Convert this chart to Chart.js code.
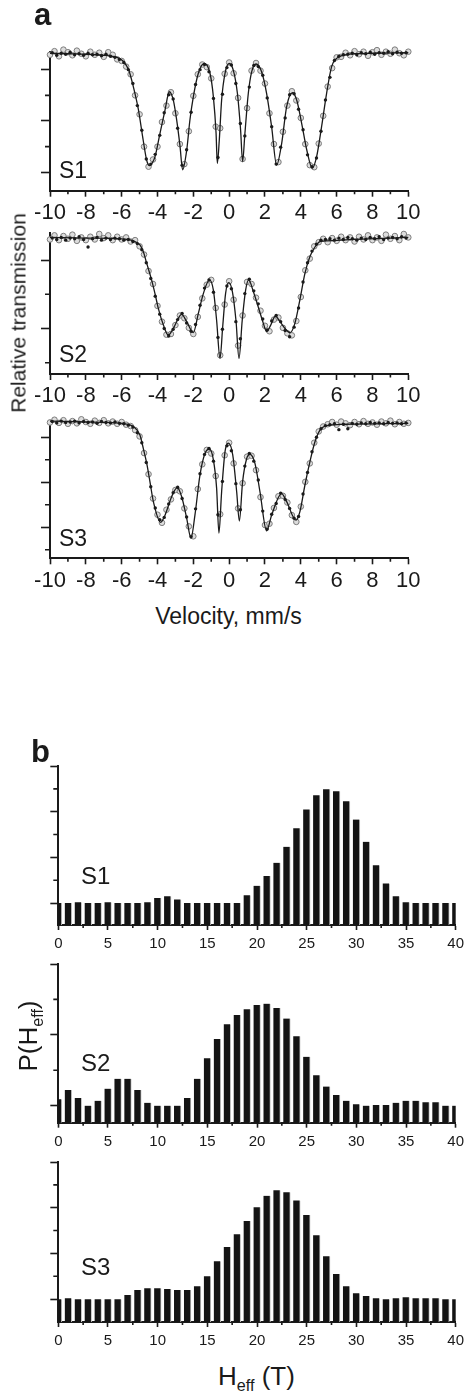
<!DOCTYPE html>
<html>
<head>
<meta charset="utf-8">
<script src="https://cdn.jsdelivr.net/npm/chart.js@4.4.1/dist/chart.umd.min.js"></script>
<style>
  body { margin: 0; background: #fff; }
  #page { position: relative; width: 471px; height: 1396px; overflow: hidden;
          font-family: "Liberation Sans", Arial, sans-serif; color: #1a1a1a; }
  canvas { position: absolute; left: 0; }
  .t { position: absolute; line-height: 1; white-space: nowrap; }
  .sub { font-size: 0.62em; position: relative; top: 0.35em; }
</style>
</head>
<body>
<div id="page">
  <canvas id="a1" width="471" height="222" style="top:0px"></canvas>
  <canvas id="a2" width="471" height="192" style="top:222px"></canvas>
  <canvas id="a3" width="471" height="186" style="top:414px"></canvas>
  <canvas id="b1" width="471" height="210" style="top:745px"></canvas>
  <canvas id="b2" width="471" height="200" style="top:955px"></canvas>
  <canvas id="b3" width="471" height="195" style="top:1155px"></canvas>

  <div class="t" style="left:34px;top:-1px;font-size:31px;font-weight:bold">a</div>
  <div class="t" style="left:31px;top:736px;font-size:31px;font-weight:bold">b</div>

  <div class="t" style="left:59px;top:158.5px;font-size:23px">S1</div>
  <div class="t" style="left:59px;top:343px;font-size:23px">S2</div>
  <div class="t" style="left:59px;top:527px;font-size:23px">S3</div>

  <div class="t" style="left:81px;top:863.7px;font-size:24px">S1</div>
  <div class="t" style="left:81px;top:1051.4px;font-size:24px">S2</div>
  <div class="t" style="left:81px;top:1254.7px;font-size:24px">S3</div>

  <div class="t" style="left:17.7px;top:312.5px;font-size:21px;transform:translate(-50%,-50%) rotate(-90deg)">Relative transmission</div>
  <div class="t" style="left:228.5px;top:605.3px;font-size:23px;transform:translateX(-50%)">Velocity, mm/s</div>

  <div class="t" style="left:28px;top:1036px;font-size:26px;transform:translate(-50%,-50%) rotate(-90deg)">P(H<span class="sub">eff</span>)</div>
  <div class="t" style="left:256.5px;top:1363px;font-size:26px;transform:translateX(-50%)">H<span class="sub">eff</span> (T)</div>
</div>

<script>
// ---- panel a: Mossbauer spectra ----
const VEL_TICKS = [-10, -8, -6, -4, -2, 0, 2, 4, 6, 8, 10];
const VEL_MINOR = [-9, -7, -5, -3, -1, 1, 3, 5, 7, 9];

// channels shown as open grey circles
const VEL_OPEN = [
  -10, -9.75, -9.5, -9.25, -9, -8.75, -8.5, -8.25, -8, -7.75, -7.5, -7.25, -7, -6.75, -6.5, -6.25, -6, -5.75, -5.5, -5.25,
  -5, -4.75, -4.5, -4.25, -4, -3.75, -3.5, -3.25, -3, -2.75, -2.5, -2.25, -2, -1.75, -1.5, -1.25, -1, -0.75, -0.5, -0.25,
  0, 0.25, 0.5, 0.75, 1, 1.25, 1.5, 1.75, 2, 2.25, 2.5, 2.75, 3, 3.25, 3.5, 3.75, 4, 4.25, 4.5, 4.75,
  5, 5.25, 5.5, 5.75, 6, 6.25, 6.5, 6.75, 7, 7.25, 7.5, 7.75, 8, 8.25, 8.5, 8.75, 9, 9.25, 9.5, 9.75,
  10
];
// channels shown as small black dots
const VEL_DOT = [
  -9.875, -9.625, -9.375, -9.125, -8.875, -8.625, -8.375, -8.125, -7.875, -7.625, -7.375, -7.125, -6.875, -6.625, -6.375, -6.125, -5.875, -5.625, -5.375, -5.125,
  -4.875, -4.625, -4.375, -4.125, -3.875, -3.625, -3.375, -3.125, -2.875, -2.625, -2.375, -2.125, -1.875, -1.625, -1.375, -1.125, -0.875, -0.625, -0.375, -0.125,
  0.125, 0.375, 0.625, 0.875, 1.125, 1.375, 1.625, 1.875, 2.125, 2.375, 2.625, 2.875, 3.125, 3.375, 3.625, 3.875, 4.125, 4.375, 4.625, 4.875,
  5.125, 5.375, 5.625, 5.875, 6.125, 6.375, 6.625, 6.875, 7.125, 7.375, 7.625, 7.875, 8.125, 8.375, 8.625, 8.875, 9.125, 9.375, 9.625, 9.875
];

const S1_OPEN = [
  22.9, 23.6, 22.6, 23.9, 23.4, 22.8, 23.7, 23.1, 22.6, 23.5, 22.9, 23.3, 22.5, 23.4, 22.9, 22.0, 21.7, 20.6, 19.1, 15.0,
  11.3, 5.0, 1.1, 2.5, 5.0, 9.8, 13.0, 15.6, 11.5, 5.5, 1.6, 8.0, 14.9, 19.1, 21.0, 20.5, 18.3, 8.9, 8.6, 19.2,
  21.4, 19.3, 14.5, 2.6, 12.5, 19.8, 21.3, 19.8, 17.3, 11.5, 5.5, 2.0, 7.9, 13.0, 15.8, 14.0, 10.6, 5.5, 1.4, 1.0,
  5.6, 11.0, 16.7, 20.3, 22.4, 22.5, 23.3, 22.8, 23.6, 23.0, 23.5, 22.7, 23.4, 23.8, 22.9, 23.5, 23.1, 23.9, 23.2, 22.8,
  23.5
];
const S1_DOT = [
  23.3, 22.8, 23.2, 23.0, 23.4, 22.9, 23.1, 22.8, 23.2, 22.9, 23.0, 22.7, 23.0, 22.6, 22.4, 22.0, 21.4, 20.0, 17.3, 13.0,
  8.2, 2.6, 1.6, 3.5, 7.2, 11.6, 15.1, 14.3, 8.6, 1.4, 4.4, 11.7, 17.1, 20.0, 21.0, 19.6, 14.4, 2.9, 15.2, 20.4,
  20.9, 17.3, 9.5, 7.1, 16.6, 20.8, 20.6, 18.9, 14.5, 8.9, 1.6, 4.9, 10.6, 15.1, 15.3, 12.3, 8.3, 3.4, 1.1, 2.8,
  8.0, 14.1, 18.5, 21.8, 22.6, 22.9, 23.0, 23.2, 22.9, 23.3, 23.1, 23.4, 23.0, 23.3, 23.2, 23.5, 23.1, 23.4, 23.2, 23.3
];
const S1_FIT_V = [
  -10, -9, -8, -7, -6.5, -6.2, -5.9, -5.6, -5.35, -5.07, -4.8, -4.6, -4.45, -4.3, -4.14, -3.86, -3.58, -3.34, -3.12, -2.93,
  -2.74, -2.6, -2.37, -2.19, -2.0, -1.72, -1.39, -1.07, -0.88, -0.73, -0.66, -0.55, -0.42, -0.23, 0, 0.23, 0.46, 0.64, 0.75, 0.88,
  1.07, 1.26, 1.5, 1.81, 2.09, 2.37, 2.65, 2.93, 3.21, 3.53, 3.77, 4.05, 4.33, 4.64, 4.88, 5.16, 5.44, 5.72, 6.0, 6.37,
  7, 8, 10
];
const S1_FIT = [
  23.2, 23.1, 23.0, 22.8, 22.6, 22.3, 21.6, 19.9, 16.7, 12.3, 6.3, 2.3, 1.3, 1.8, 3.0, 7.6, 12.1, 15.7, 14.1, 10.2,
  5.0, 0.5, 4.3, 10.2, 14.7, 19.3, 21.2, 19.3, 14.7, 7.6, 1.75, 6.3, 14.1, 19.3, 21.2, 19.9, 15.4, 8.2, 2.1, 7.6,
  15.4, 19.6, 21.1, 19.6, 15.4, 8.9, 1.4, 5.6, 12.8, 15.5, 14.1, 9.5, 4.4, 0.8, 3.0, 8.9, 15.4, 20.6, 22.2, 22.8,
  23.1, 23.2, 23.3
];

const S2_OPEN = [
  13.0, 13.6, 12.9, 13.5, 13.1, 13.7, 12.8, 13.3, 12.9, 13.4, 13.0, 13.8, 13.2, 13.6, 12.9, 13.4, 13.0, 13.3, 12.7, 12.9,
  12.0, 10.8, 8.4, 6.5, 3.3, 1.0, -0.9, -0.8, 0.5, 1.9, 1.5, 0.1, -0.8, 1.7, 4.4, 6.4, 7.1, 3.0, -3.9, 3.5,
  6.9, 4.2, -2.5, 1.9, 6.8, 6.5, 4.5, 2.6, 0.4, -0.4, 1.3, 1.6, 0.1, -0.7, -1.0, 1.1, 4.6, 8.5, 10.2, 12.0,
  12.6, 13.1, 12.6, 13.2, 12.8, 13.4, 12.9, 13.3, 12.7, 13.4, 13.0, 13.6, 12.9, 13.3, 12.8, 13.7, 13.1, 13.5, 12.9, 13.8,
  13.3
];
const S2_DOT = [
  13.2, 13.0, 13.3, 12.9, 13.2, 13.1, 13.4, 13.0, 11.9, 13.1, 13.3, 12.9, 13.2, 13.0, 13.2, 13.1, 12.9, 13.0, 12.7, 12.4,
  11.5, 9.6, 7.3, 4.7, 2.1, 0.0, -1.1, -0.1, 1.3, 2.2, 0.8, -0.4, 0.6, 3.4, 5.9, 7.1, 5.3, -1.3, -0.1, 6.2,
  5.8, 1.0, -1.5, 5.1, 7.2, 5.5, 3.6, 1.4, -0.2, 1.1, 1.9, 1.0, -0.3, -1.2, 0.2, 3.0, 6.8, 9.6, 11.3, 12.3,
  12.9, 13.0, 13.1, 12.9, 13.2, 13.0, 13.3, 13.1, 12.9, 13.2, 13.0, 13.3, 13.1, 13.4, 13.0, 13.2, 13.3, 13.1, 13.4, 13.2
];
const S2_FIT_V = [
  -10, -8, -6, -5.35, -4.98, -4.79, -4.6, -4.33, -4.14, -3.95, -3.67, -3.4, -3.12, -2.65, -2.37, -2.0, -1.72, -1.44, -1.1, -0.88,
  -0.7, -0.51, -0.36, -0.2, -0.03, 0.18, 0.38, 0.55, 0.73, 0.92, 1.09, 1.35, 1.63, 1.91, 2.09, 2.32, 2.58, 2.84, 3.12, 3.4,
  3.67, 3.95, 4.23, 4.51, 4.79, 5.07, 5.44, 7, 10
];
const S2_FIT = [
  13.3, 13.2, 13.1, 12.8, 12.2, 11.2, 9.5, 7.1, 5.1, 2.9, 0.5, -0.95, 0.0, 2.07, 1.0, -0.6, 2.2, 5.1, 7.1, 5.6,
  1.2, -4.36, 0.27, 5.1, 6.7, 5.4, 1.2, -4.36, 1.2, 5.6, 7.1, 5.4, 3.1, 0.75, -0.46, 0.5, 1.8, 1.0, 0.0, -0.6,
  0.75, 4.2, 8.05, 10.5, 11.9, 12.7, 12.8, 13.0, 13.3
];

const S3_OPEN = [
  23.3, 23.9, 23.2, 23.8, 23.0, 23.6, 23.1, 24.0, 23.4, 23.0, 23.7, 23.2, 23.8, 23.1, 23.5, 23.0, 23.4, 22.8, 22.5, 21.6,
  20.2, 16.5, 11.8, 6.4, 2.8, 1.0, 3.9, 6.2, 8.3, 8.0, 4.2, 0.2, -2.0, 8.5, 14.0, 17.2, 16.4, 11.4, 2.9, 16.0,
  18.8, 14.2, 4.2, 9.8, 15.7, 15.9, 12.7, 6.7, 0.5, 0.8, 4.3, 6.9, 7.0, 5.5, 2.7, 1.2, 4.6, 10.1, 14.2, 18.8,
  21.3, 22.4, 22.9, 23.4, 22.8, 23.5, 23.1, 22.7, 23.4, 22.9, 23.6, 23.0, 23.3, 22.8, 23.5, 23.1, 23.7, 22.9, 23.4, 23.0,
  23.2
];
const S3_DOT = [
  23.5, 23.2, 23.6, 23.3, 23.4, 23.6, 23.2, 23.5, 23.3, 23.4, 23.1, 23.5, 23.3, 23.2, 23.4, 23.1, 23.0, 22.7, 22.3, 21.0,
  18.8, 14.4, 9.0, 4.3, 1.7, 2.2, 5.2, 7.7, 8.9, 6.4, 2.3, -2.1, 4.1, 11.9, 16.2, 17.5, 14.7, 2.8, 10.2, 18.1,
  17.0, 9.7, 3.9, 13.6, 16.4, 14.7, 10.5, 3.6, -0.4, 2.9, 5.3, 7.6, 6.2, 4.2, 2.0, 2.4, 7.4, 12.2, 16.8, 20.0,
  21.9, 22.6, 22.8, 23.0, 21.7, 22.9, 21.9, 23.1, 22.9, 23.2, 23.0, 23.3, 23.1, 23.2, 23.0, 23.3, 23.1, 23.2, 23.0, 23.2
];
const S3_FIT_V = [
  -10, -8, -6.8, -5.8, -5.35, -4.98, -4.79, -4.6, -4.42, -4.23, -3.82, -3.58, -3.21, -2.9, -2.65, -2.37, -2.13, -1.91, -1.63, -1.35,
  -1.1, -0.88, -0.7, -0.57, -0.42, -0.23, -0.05, 0.2, 0.42, 0.57, 0.75, 0.98, 1.16, 1.44, 1.72, 2.09, 2.37, 2.93, 3.21, 3.73,
  3.95, 4.23, 4.51, 4.79, 5.07, 5.44, 6.5, 10
];
const S3_FIT = [
  23.6, 23.4, 23.3, 23.0, 22.4, 20.5, 17.5, 14.2, 10.1, 5.7, 1.1, 2.7, 6.8, 8.8, 6.8, 2.0, -2.4, 2.7, 11.6, 16.4,
  17.4, 15.0, 8.7, -1.3, 7.9, 16.8, 18.7, 16.1, 7.9, 1.4, 10.1, 15.3, 16.2, 14.2, 7.9, -0.8, 2.7, 7.5, 5.7, 1.6,
  3.5, 9.4, 14.6, 19.0, 21.6, 22.6, 22.9, 23.1
];

// ---- panel b: hyperfine field distributions ----
const H_TICKS = [0, 5, 10, 15, 20, 25, 30, 35, 40];
const H_MINOR = [2.5, 7.5, 12.5, 17.5, 22.5, 27.5, 32.5, 37.5];
const H_FIELD = [0, 1, 2, 3, 4, 5, 6, 7, 8, 9, 10, 11, 12, 13, 14, 15, 16, 17, 18, 19, 20,
                 21, 22, 23, 24, 25, 26, 27, 28, 29, 30, 31, 32, 33, 34, 35, 36, 37, 38, 39, 40];
const P_S1 = [0, 0, 0.02, 0, 0, 0.02, 0, 0, 0, 0.02, 0.11, 0.15, 0.08, 0, 0, 0, 0, 0, 0, 0.17,
              0.38, 0.59, 0.88, 1.23, 1.64, 2.05, 2.36, 2.49, 2.45, 2.23, 1.83, 1.34, 0.83, 0.43, 0.15, 0.02, 0, 0, 0, 0, 0];
const P_S2 = [0.09, 0.22, 0.11, 0, 0.07, 0.24, 0.38, 0.38, 0.22, 0.04, 0, 0, 0, 0.11, 0.38, 0.67, 0.94, 1.15, 1.28, 1.36,
              1.42, 1.44, 1.38, 1.23, 0.98, 0.69, 0.43, 0.27, 0.15, 0.07, 0.02, 0, 0.01, 0.01, 0.04, 0.07, 0.07, 0.05, 0.05, 0, 0];
const P_S3 = [0, 0.02, 0, 0, 0, 0, 0, 0.09, 0.2, 0.24, 0.24, 0.22, 0.2, 0.2, 0.28, 0.5, 0.83, 1.14, 1.42, 1.71,
              2.01, 2.26, 2.38, 2.34, 2.16, 1.84, 1.40, 0.94, 0.55, 0.28, 0.13, 0.07, 0.02, 0, 0.02, 0.04, 0.02, 0.02, 0.02, 0, 0];

const INK = "#1a1a1a";
const W = 471;
Chart.defaults.font.family = '"Liberation Sans", Arial, sans-serif';
Chart.defaults.color = INK;
Chart.defaults.animation = false;
Chart.defaults.plugins.legend.display = false;
Chart.defaults.plugins.tooltip.enabled = false;

// short unlabelled ticks between the major ones
const minorTicks = {
    id: "minorTicks",
    afterDraw(chart, args, opts) {
        const { ctx, scales: { x, y } } = chart;
        ctx.save();
        ctx.strokeStyle = INK;
        ctx.lineWidth = 1.6;
        ctx.beginPath();
        opts.x.forEach(v => {
            const px = x.getPixelForValue(v);
            ctx.moveTo(px, x.top);
            ctx.lineTo(px, x.top + opts.xLen);
        });
        opts.y.forEach(v => {
            const py = y.getPixelForValue(v);
            ctx.moveTo(y.right, py);
            ctx.lineTo(y.right - opts.yLen, py);
        });
        ctx.stroke();
        ctx.restore();
    }
};

const axis = (tickLen) => ({
    border: { display: true, color: INK, width: 2 },
    grid: { drawOnChartArea: false, drawTicks: true, tickLength: tickLen, tickWidth: 1.6, tickColor: INK, offset: false }
});

const pts = (xs, ys) => xs.map((x, i) => ({ x: x, y: ys[i] }));

function frame(top, height, area, yw) {
    return {
        responsive: false,
        events: [],
        layout: { padding: { left: area.left - yw, right: W - area.right, top: area.top - top, bottom: 0 } }
    };
}

function spectrum(id, top, height, area, yMin, yMax, yMajor, yMinor, fitV, fitY, openY, dotY) {
    const yw = 12;
    new Chart(document.getElementById(id), {
        type: "scatter",
        data: {
            datasets: [
                { data: pts(VEL_DOT, dotY), pointRadius: 1.7, pointBackgroundColor: INK, pointBorderWidth: 0, order: 1, clip: false },
                { type: "line", data: pts(fitV, fitY), borderColor: INK, borderWidth: 1.3, pointRadius: 0,
                  cubicInterpolationMode: "monotone", order: 2, clip: false },
                { data: pts(VEL_OPEN, openY), pointRadius: 2.8, pointBackgroundColor: "#dcdcdc",
                  pointBorderColor: "#7c7c7c", pointBorderWidth: 1, order: 3, clip: false }
            ]
        },
        options: {
            ...frame(top, height, area, yw),
            scales: {
                x: {
                    type: "linear", min: -10, max: 10, ...axis(6),
                    afterFit: s => { s.height = top + height - area.bottom; },
                    afterBuildTicks: s => { s.ticks = VEL_TICKS.map(v => ({ value: v })); },
                    ticks: { font: { size: 22 }, padding: 3, maxRotation: 0, autoSkip: false, color: INK, callback: v => String(v) }
                },
                y: {
                    min: yMin, max: yMax, ...axis(9),
                    afterFit: s => { s.width = yw; },
                    afterBuildTicks: s => { s.ticks = yMajor.map(v => ({ value: v })); },
                    ticks: { display: false }
                }
            },
            plugins: { minorTicks: { x: VEL_MINOR, y: yMinor, xLen: 3.5, yLen: 5 } }
        },
        plugins: [minorTicks]
    });
}

function histogram(id, top, height, area, yMin, yMax, yMajor, yMinor, values) {
    const yw = 12;
    new Chart(document.getElementById(id), {
        type: "bar",
        data: {
            datasets: [{
                data: pts(H_FIELD, values),
                backgroundColor: "#141414",
                borderColor: "#c4c4c4",
                borderWidth: { top: 0, right: 1, bottom: 0, left: 0 },
                barThickness: 7,
                base: yMin
            }]
        },
        options: {
            ...frame(top, height, area, yw),
            scales: {
                x: {
                    type: "linear", min: 0, max: 40, offset: false, ...axis(5),
                    afterFit: s => { s.height = top + height - area.bottom; },
                    afterBuildTicks: s => { s.ticks = H_TICKS.map(v => ({ value: v })); },
                    ticks: { font: { size: 15 }, padding: 5, maxRotation: 0, autoSkip: false, color: INK, callback: v => String(v) }
                },
                y: {
                    min: yMin, max: yMax, ...axis(8),
                    afterFit: s => { s.width = yw; },
                    afterBuildTicks: s => { s.ticks = yMajor.map(v => ({ value: v })); },
                    ticks: { display: false }
                }
            },
            plugins: { minorTicks: { x: H_MINOR, y: yMinor, xLen: 3, yLen: 5 } }
        },
        plugins: [minorTicks]
    });
}

const A_AREA = (t, b) => ({ left: 50, right: 408.3, top: t, bottom: b });
const B_AREA = (t, b) => ({ left: 58.3, right: 455.7, top: t, bottom: b });

spectrum("a1", 0, 222, A_AREA(51.7, 190.7), -3.58, 23.5, [0, 10, 20], [5, 15], S1_FIT_V, S1_FIT, S1_OPEN, S1_DOT);
spectrum("a2", 222, 192, A_AREA(233.3, 374), -6.64, 13.9, [0, 10], [-5, 5], S2_FIT_V, S2_FIT, S2_OPEN, S2_DOT);
spectrum("a3", 414, 186, A_AREA(422, 558.3), -6.89, 23.4, [0, 10, 20], [-5, 5, 15], S3_FIT_V, S3_FIT, S3_OPEN, S3_DOT);

histogram("b1", 745, 210, B_AREA(766, 925), -0.48, 3.0, [0, 1, 2, 3], [0.5, 1.5, 2.5], P_S1);
histogram("b2", 955, 200, B_AREA(964, 1122.7), -0.24, 2.0, [0, 1, 2], [0.5, 1.5], P_S2);
histogram("b3", 1155, 195, B_AREA(1162, 1322), -0.5, 3.0, [0, 1, 2, 3], [0.5, 1.5, 2.5], P_S3);
</script>
</body>
</html>
